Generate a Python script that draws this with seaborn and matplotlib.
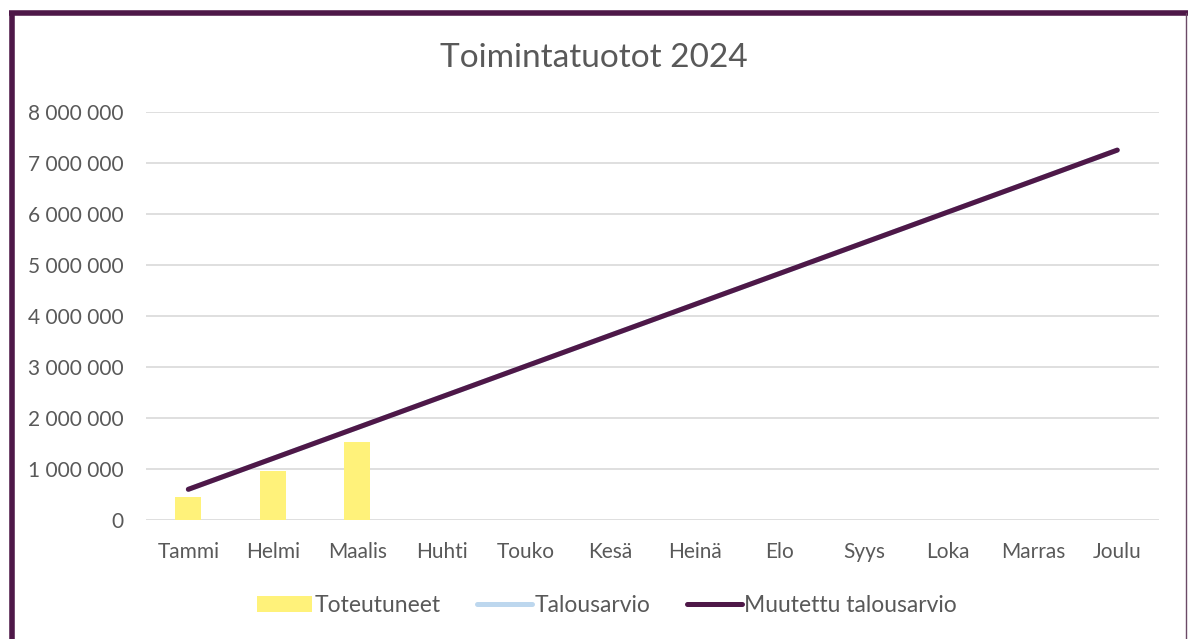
import matplotlib
matplotlib.use("Agg")
import matplotlib.pyplot as plt
import seaborn as sns
from matplotlib.patches import Patch
from matplotlib.lines import Line2D

# Data
months = ["Tammi", "Helmi", "Maalis", "Huhti", "Touko", "Kesä",
          "Heinä", "Elo", "Syys", "Loka", "Marras", "Joulu"]
actual = [450000, 960000, 1540000]  # Toteutuneet (Jan-Mar)
budget = [604000, 1208000, 1812000, 2416000, 3020000, 3624000,
          4228000, 4832000, 5436000, 6040000, 6644000, 7250000]  # Talousarvio
revised_budget = [604000, 1208000, 1812000, 2416000, 3020000, 3624000,
                  4228000, 4832000, 5436000, 6040000, 6644000, 7250000]  # Muutettu talousarvio
yticks = [0, 1000000, 2000000, 3000000, 4000000, 5000000, 6000000, 7000000, 8000000]

purple = "#4E1848"
yellow = "#FFF27A"
lightblue = "#BDD7EE"
textc = "#595959"

sns.set_style("white")
plt.rcParams['font.family'] = ['Lato', 'DejaVu Sans']

fig = plt.figure(figsize=(11.88, 6.39), dpi=100)
ax = fig.add_axes([0.123, 0.186, 0.853, 0.639])

sns.barplot(x=months[:3], y=actual, order=months, color=yellow,
            width=0.31, saturation=1, linewidth=0, ax=ax)
sns.lineplot(x=months, y=budget, color=lightblue, linewidth=3.6,
             sort=False, ax=ax, solid_capstyle="round")
sns.lineplot(x=months, y=revised_budget, color=purple, linewidth=3.6,
             sort=False, ax=ax, solid_capstyle="round")

ax.set_ylim(0, 8000000)
ax.set_xlim(-0.5, 11.5)
ax.set_yticks(yticks)
ax.set_yticklabels([f"{v:,}".replace(",", " ") for v in yticks])
ax.grid(axis="y", color="#D9D9D9", linewidth=1.2)
ax.set_axisbelow(True)
for s in ax.spines.values():
    s.set_visible(False)
ax.tick_params(axis="both", length=0, labelsize=15, labelcolor=textc)
ax.tick_params(axis="y", pad=16.5)
ax.tick_params(axis="x", pad=16)
ax.set_xlabel("")
ax.set_ylabel("")

fig.text(0.5, 0.91, "Toimintatuotot 2024", ha="center", va="center",
         fontsize=24, color=textc)

handles = [Patch(facecolor=yellow, edgecolor="none"),
           Line2D([], [], color=lightblue, linewidth=3.6, solid_capstyle="round"),
           Line2D([], [], color=purple, linewidth=3.6, solid_capstyle="round")]
labels = ["Toteutuneet", "Talousarvio", "Muutettu talousarvio"]
fig.legend(handles, labels, loc="center", bbox_to_anchor=(0.511, 0.053), ncol=3,
           frameon=False, fontsize=16.5, labelcolor=textc, handlelength=2.4,
           handletextpad=0.1, columnspacing=1.6)

# chart frame (purple border at left/top, thin at right)
fig.add_artist(Line2D([0.0098, 0.0098], [0, 0.982], color=purple, linewidth=4,
                      solid_capstyle="butt", transform=fig.transFigure))
fig.add_artist(Line2D([0.0078, 1.0], [0.9795, 0.9795], color=purple, linewidth=4,
                      solid_capstyle="butt", transform=fig.transFigure))
fig.add_artist(Line2D([0.9985, 0.9985], [0, 0.98], color="#6B4A66", linewidth=1,
                      transform=fig.transFigure))

fig.savefig("out.png", dpi=100)
